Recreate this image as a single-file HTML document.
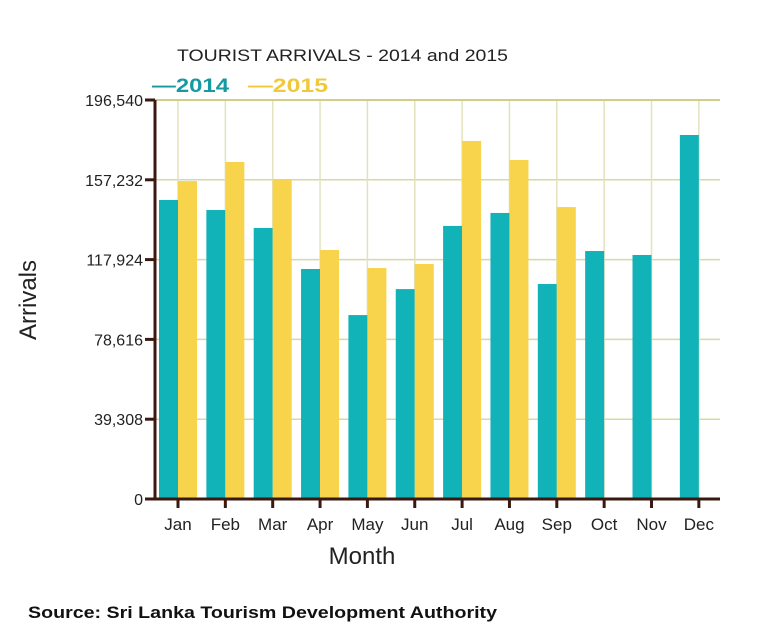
<!DOCTYPE html>
<html><head><meta charset="utf-8"><style>
body{margin:0;background:#fff;font-family:"Liberation Sans",sans-serif}
svg text{font-family:"Liberation Sans",sans-serif}
</style></head><body>
<svg width="770" height="637" xmlns="http://www.w3.org/2000/svg">
<text x="177" y="61" font-size="17" textLength="331" lengthAdjust="spacingAndGlyphs" fill="#222">TOURIST ARRIVALS - 2014 and 2015</text>
<g>
<text x="152" y="92" font-size="19" font-weight="bold" textLength="77" lengthAdjust="spacingAndGlyphs" fill="#169a9f">—2014</text>
<text x="248" y="92" font-size="19" font-weight="bold" textLength="80" lengthAdjust="spacingAndGlyphs" fill="#f0c93a">—2015</text>
</g>
<g id="grid"></g>
<g id="bars"></g>
<g id="axes"></g>
<text transform="translate(36,300) rotate(-90)" text-anchor="middle" font-size="24" fill="#222">Arrivals</text>
<text x="362" y="564" text-anchor="middle" font-size="24" fill="#222">Month</text>
<text x="28" y="618" font-size="17" font-weight="bold" textLength="469" lengthAdjust="spacingAndGlyphs" fill="#111">Source: Sri Lanka Tourism Development Authority</text>
</svg>
<script>
const months=["Jan","Feb","Mar","Apr","May","Jun","Jul","Aug","Sep","Oct","Nov","Dec"];
const arrivals2014=[147300,142350,133500,113300,90600,103400,134500,140900,105900,122150,120200,179300];
const arrivals2015=[156600,166000,157600,122650,113800,115750,176350,167000,143800,null,null,null];
const yTicks=[0,39308,78616,117924,157232,196540];
const yTickLabels=["0","39,308","78,616","117,924","157,232","196,540"];
const NS="http://www.w3.org/2000/svg";
const pLeft=155,pRight=720,pTop=100,pBottom=499,ymax=196540;
const x0=178,step=47.35,bw=19;
function yS(v){return pBottom-(v/ymax)*(pBottom-pTop);}
function xC(i){return x0+i*step;}
function mk(tag,attrs,parent){const e=document.createElementNS(NS,tag);for(const k in attrs)e.setAttribute(k,attrs[k]);parent.appendChild(e);return e;}
const grid=document.getElementById('grid'),bars=document.getElementById('bars'),axes=document.getElementById('axes');
yTicks.forEach((t,i)=>{
  if(t>0){const l=mk('line',{x1:pLeft,x2:pRight,y1:yS(t),y2:yS(t),stroke:'#d9d8a4','stroke-width':1.5},grid);
  
  }
  const tk=mk('line',{x1:pLeft-10,x2:pLeft,y1:yS(t),y2:yS(t),stroke:'#3a1a10','stroke-width':3},axes);
  
  
  const tx=mk('text',{x:pLeft-12,y:yS(t)+6,'text-anchor':'end','font-size':16,fill:'#222'},axes);
  tx.textContent=yTickLabels[i];
  
  
});
months.forEach((m,i)=>{
  const g=mk('line',{x1:xC(i),x2:xC(i),y1:pTop,y2:pBottom,stroke:'#e3e2bd','stroke-width':1.5},grid);
  
  
  const a=mk('rect',{x:xC(i)-bw,y:yS(arrivals2014[i]),width:bw,height:pBottom-yS(arrivals2014[i]),fill:'#12b3b8'},bars);
  
  
  if(arrivals2015[i]!=null){
    const b=mk('rect',{x:xC(i),y:yS(arrivals2015[i]),width:bw,height:pBottom-yS(arrivals2015[i]),fill:'#f7d44c'},bars);
    
    
  }
  const tk=mk('line',{x1:xC(i),x2:xC(i),y1:pBottom,y2:pBottom+9,stroke:'#3a1a10','stroke-width':3},axes);
  
  
  const tx=mk('text',{x:xC(i),y:pBottom+31,'text-anchor':'middle','font-size':17,fill:'#222'},axes);
  tx.textContent=m;
  
  
});
const topBorder=mk('line',{x1:pLeft,x2:pRight,y1:pTop,y2:pTop,stroke:'#cfcf8a','stroke-width':2},grid);


const ya=mk('line',{x1:pLeft,x2:pLeft,y1:pTop,y2:pBottom+1,stroke:'#3a1a10','stroke-width':3},axes);


const xa=mk('line',{x1:pLeft,x2:pRight,y1:pBottom,y2:pBottom,stroke:'#3a1a10','stroke-width':3},axes);


</script>
</body></html>
